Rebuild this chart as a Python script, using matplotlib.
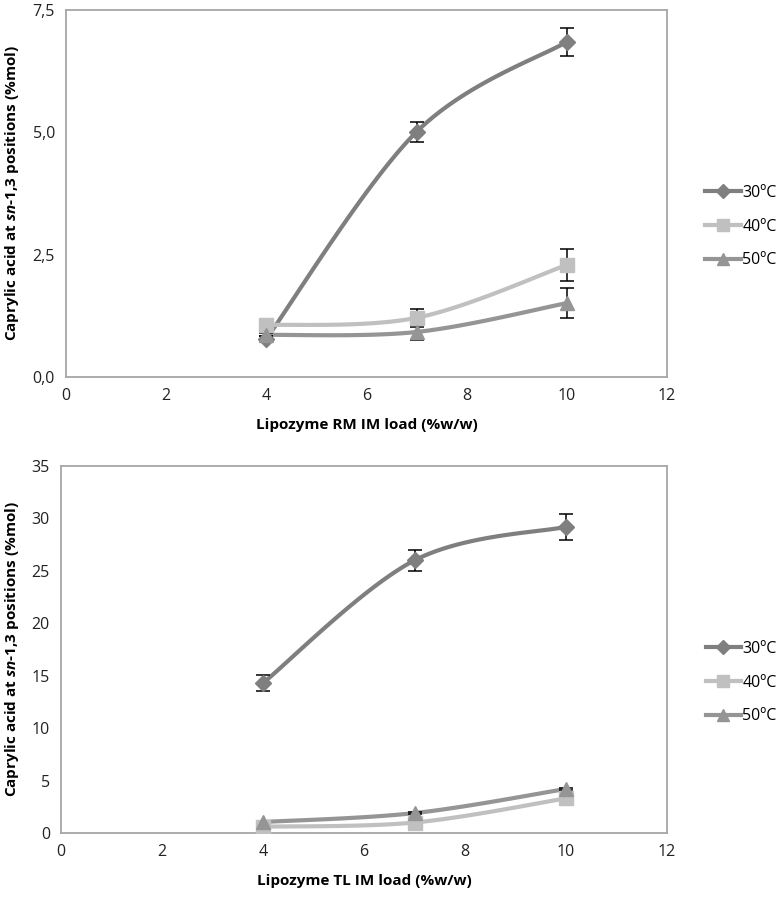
import numpy as np
import matplotlib
matplotlib.use("Agg")
import matplotlib.pyplot as plt
from matplotlib.ticker import FuncFormatter

plt.rcParams['font.family'] = ['Open Sans', 'DejaVu Sans']
plt.rcParams['mathtext.fontset'] = 'custom'
plt.rcParams['mathtext.rm'] = 'Open Sans:bold'
plt.rcParams['mathtext.it'] = 'Open Sans:italic:bold'
plt.rcParams['mathtext.bf'] = 'Open Sans:bold'

load = [4, 7, 10]
series_labels = ["30ºC", "40ºC", "50ºC"]

# Top panel: Lipozyme RM IM
rm_30 = [0.78, 5.01, 6.85]
rm_30_err = [0.05, 0.21, 0.29]
rm_40 = [1.06, 1.21, 2.29]
rm_40_err = [0.03, 0.18, 0.33]
rm_50 = [0.86, 0.92, 1.51]
rm_50_err = [0.03, 0.16, 0.31]

# Bottom panel: Lipozyme TL IM
tl_30 = [14.3, 26.0, 29.2]
tl_30_err = [0.8, 1.0, 1.24]
tl_40 = [0.6, 1.0, 3.3]
tl_40_err = [0.1, 0.1, 0.1]
tl_50 = [1.05, 1.9, 4.2]
tl_50_err = [0.1, 0.1, 0.1]

top_yticks = [0, 2.5, 5.0, 7.5]
bottom_yticks = [0, 5, 10, 15, 20, 25, 30, 35]
xticks = [0, 2, 4, 6, 8, 10, 12]

colors = ["#7f7f7f", "#c0c0c0", "#959595"]
markers = ["D", "s", "^"]
msizes = [8, 10, 10]


def excel_smooth(x, y, n=60):
    """Excel-like smoothed line: cubic Bezier with 1/6 tangent control points."""
    x = np.asarray(x, float)
    y = np.asarray(y, float)
    pts = np.column_stack([x, y])
    out = []
    m = len(pts)
    for i in range(m - 1):
        p0 = pts[i - 1] if i > 0 else pts[i]
        p1 = pts[i]
        p2 = pts[i + 1]
        p3 = pts[i + 2] if i + 2 < m else pts[i + 1]
        c1 = p1 + (p2 - p0) / 6.0
        c2 = p2 - (p3 - p1) / 6.0
        t = np.linspace(0, 1, n)[:, None]
        seg = ((1 - t) ** 3) * p1 + 3 * ((1 - t) ** 2) * t * c1 + 3 * (1 - t) * t ** 2 * c2 + t ** 3 * p2
        out.append(seg if i == 0 else seg[1:])
    s = np.vstack(out)
    return s[:, 0], s[:, 1]


fig = plt.figure(figsize=(7.82, 8.97), dpi=100)
W, H = 782, 897
ax1 = fig.add_axes([66 / W, 1 - 377 / H, (667 - 66) / W, (377 - 10) / H])
ax2 = fig.add_axes([61 / W, 1 - 833 / H, (667 - 61) / W, (833 - 466) / H])


def draw(ax, data, errs, yticks, ymax, fmt, xlabel, legend_y):
    handles = []
    for vals, err, c, mk, ms, lab in zip(data, errs, colors, markers, msizes, series_labels):
        sx, sy = excel_smooth(load, vals)
        ax.plot(sx, sy, color=c, lw=3, solid_capstyle='round', zorder=3)
        ax.errorbar(load, vals, yerr=err, fmt='none', ecolor='black', elinewidth=1.1,
                    capsize=5, capthick=1.1, zorder=4)
        ax.plot(load, vals, ls='none', marker=mk, ms=ms, color=c, mec=c, zorder=5)
        h, = ax.plot([], [], color=c, lw=3, marker=mk, ms=ms * 0.85, mec=c, label=lab)
        handles.append(h)
    ax.set_xlim(0, 12)
    ax.set_ylim(0, ymax)
    ax.set_xticks(xticks)
    ax.set_yticks(yticks)
    ax.yaxis.set_major_formatter(FuncFormatter(fmt))
    ax.tick_params(length=0, labelsize=11.5, colors='#222222', pad=8)
    for sp in ax.spines.values():
        sp.set_color('#a6a6a6')
        sp.set_linewidth(1.3)
    ax.set_xlabel(xlabel, fontsize=11, fontweight='bold', labelpad=10)
    ax.set_ylabel(r"Caprylic acid at $\it{sn}$-1,3 positions (%mol)",
                  fontsize=11, fontweight='bold', labelpad=8)
    ax.legend(handles=handles, loc='center left', bbox_to_anchor=(1.04, legend_y),
              frameon=False, fontsize=11.5, handlelength=2.2, handletextpad=0.1,
              labelspacing=1.1)


draw(ax1, [rm_30, rm_40, rm_50], [rm_30_err, rm_40_err, rm_50_err], top_yticks, 7.5,
     lambda v, p: f"{v:.1f}".replace('.', ','), "Lipozyme RM IM load (%w/w)", 0.41)
draw(ax2, [tl_30, tl_40, tl_50], [tl_30_err, tl_40_err, tl_50_err], bottom_yticks, 35,
     lambda v, p: f"{v:.0f}", "Lipozyme TL IM load (%w/w)", 0.41)

fig.savefig("out.png", dpi=100)
